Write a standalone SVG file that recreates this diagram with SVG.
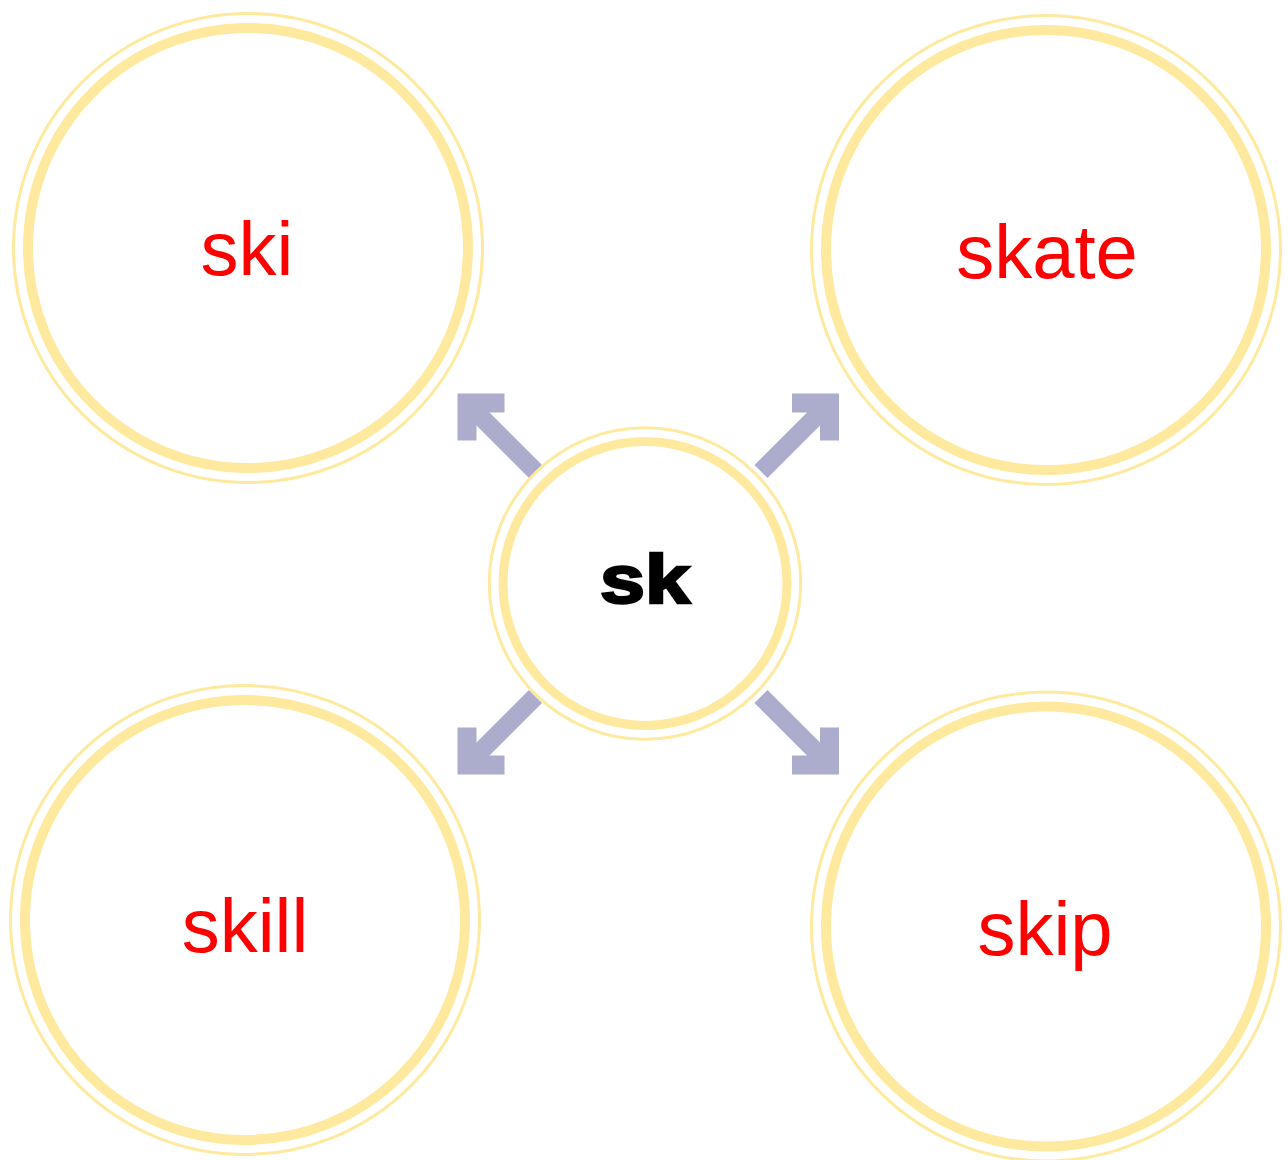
<svg xmlns="http://www.w3.org/2000/svg" width="1288" height="1160" viewBox="0 0 1288 1160">
<defs>
<style>
.bg{fill:#ffffff;stroke:none}
.thin{fill:#ffffff;stroke:#FFE99E;stroke-width:3}
.thick{fill:none;stroke:#FFE99E;stroke-width:10}
.thickc{fill:none;stroke:#FFE99E;stroke-width:9}
.arrow{fill:#ACACCC;stroke:none}
.word{font-family:"Liberation Sans",Arial,sans-serif;font-size:76px;fill:#FF0000;text-anchor:middle}
.center{font-family:"Liberation Sans",Arial,sans-serif;font-size:68px;font-weight:bold;fill:#000000;stroke:#000000;stroke-width:2.5;text-anchor:middle}
</style>
<path id="arr" d="M0,0 H47 V19 H32 L84.5,71.5 L71.5,84.5 L19,32 V47 H0 Z"/>
</defs>
<rect class="bg" x="0" y="0" width="1288" height="1160"/>
<g id="connectors">
<use href="#arr" class="arrow" transform="translate(457.5,393.5)"/>
<use href="#arr" class="arrow" transform="translate(839,393.5) scale(-1,1)"/>
<use href="#arr" class="arrow" transform="translate(457.5,774.5) scale(1,-1)"/>
<use href="#arr" class="arrow" transform="translate(839,774.5) scale(-1,-1)"/>
</g>
<g id="node-ski">
<circle class="thin" cx="248" cy="248" r="234.5"/>
<circle class="thick" cx="248" cy="248" r="220"/>
<text class="word" x="247" y="275">ski</text>
</g>
<g id="node-skate">
<circle class="thin" cx="1046" cy="250" r="234.5"/>
<circle class="thick" cx="1046" cy="250" r="220"/>
<text class="word" x="1047" y="278">skate</text>
</g>
<g id="node-skill">
<circle class="thin" cx="245" cy="920" r="234.5"/>
<circle class="thick" cx="245" cy="920" r="220"/>
<text class="word" x="245" y="952">skill</text>
</g>
<g id="node-skip">
<circle class="thin" cx="1046" cy="926.5" r="234.5"/>
<circle class="thick" cx="1046" cy="926.5" r="220"/>
<text class="word" x="1045" y="955">skip</text>
</g>
<g id="node-sk">
<circle class="thin" cx="645" cy="583.5" r="155.75"/>
<circle class="thickc" cx="645" cy="583.5" r="142"/>
<text class="center" x="645" y="603" textLength="90" lengthAdjust="spacingAndGlyphs">sk</text>
</g>
</svg>
